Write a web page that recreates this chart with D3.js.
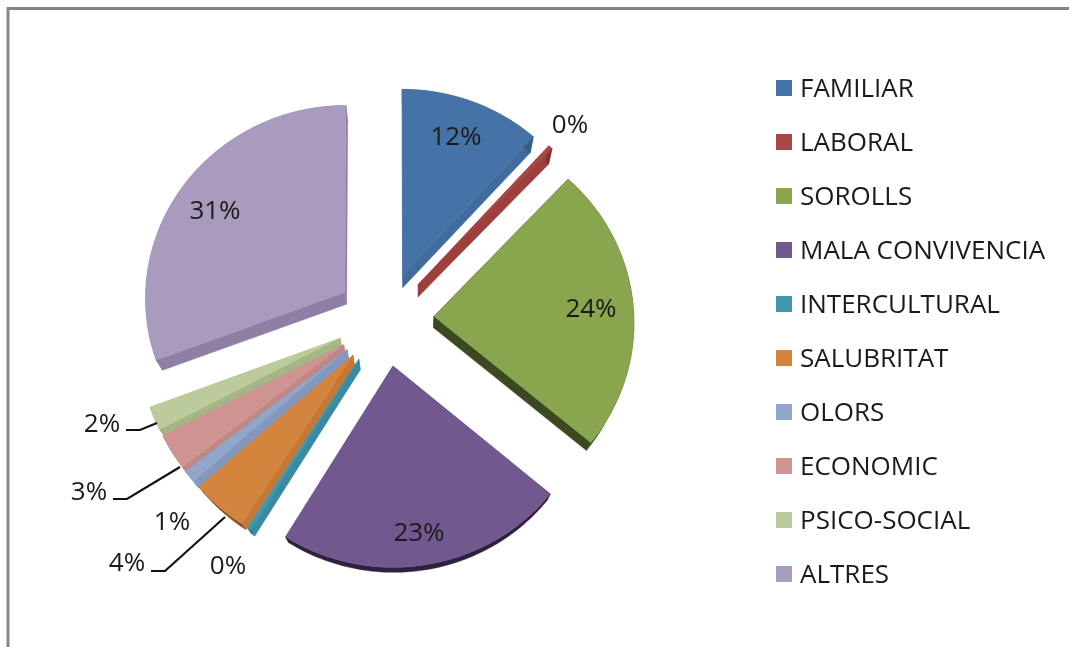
<!DOCTYPE html>
<html>
<head>
<meta charset="utf-8">
<script src="https://cdn.jsdelivr.net/npm/d3@7"></script>
<style>
  html, body { margin: 0; padding: 0; background: #fff; }
  svg { display: block; }
</style>
</head>
<body>
<svg id="chart"></svg>
<script>
// Chart data
const categories = ["FAMILIAR", "LABORAL", "SOROLLS", "MALA CONVIVENCIA", "INTERCULTURAL", "SALUBRITAT", "OLORS", "ECONOMIC", "PSICO-SOCIAL", "ALTRES"];
const values = [11.82, 0.36, 24.14, 22.8, 0.3, 4.45, 0.98, 2.93, 1.96, 30.9];
const percentLabels = ["12%", "0%", "24%", "23%", "0%", "4%", "1%", "3%", "2%", "31%"];

// Colours: top face, legend, rim wall, cut wall
const topColors = ["#4572a7", "#aa4643", "#89a54e", "#71588f", "#4198af", "#d5843e", "#92a6c9", "#cf9492", "#bccb9b", "#a99bbd"];
const rimColors = ["#375c87", "#7d3331", "#414f22", "#2e2140", "#2f7386", "#85501d", "#7389ae", "#ad7674", "#9aaa7c", "#8c7da1"];
const cutColors = ["#406b9d", "#9c3f3d", "#3c4820", "#5c4775", "#3a8aa0", "#c57735", "#8398bc", "#bf8785", "#a5b586", "#8f7fa4"];

// Percent label anchors and leader lines (layout only)
const labelPos = [[456, 136], [570, 124], [591, 308], [419, 532], [228, 565], [127, 562], [172, 521], [89, 491], [102, 423], [215, 210]];
const leaders = [
  [[157, 423], [140, 430], [126, 430]],
  [[180, 467], [127, 499], [113, 499]],
  [[225, 517], [165, 571], [151, 571]]
];

const width = 1069;
const height = 647;

// Pie geometry, the pie is tilted and seen in slight perspective
const cx = 385;
const cy = 319;
const radius = 200;
const explode = 49;
const tilt = 0.966;
const camera = 7319;
const vanish = [415, 764];
const depth = 0.0255;

const svg = d3.select("#chart")
  .attr("width", width)
  .attr("height", height)
  .attr("viewBox", [0, 0, width, height])
  .style("filter", "blur(0.6px)");

svg.append("rect").attr("width", width).attr("height", height).attr("fill", "#fff");

// Frame, only top and left edges show
svg.append("path")
  .attr("fill", "none")
  .attr("stroke", "#868686")
  .attr("stroke-width", 3)
  .attr("d", d3.line()([[8, height], [8, 8.5], [width, 8.5]]));

function project(X, Z) {
  const s = 1 / (1 + Z / camera);
  return [cx + X * s, cy - tilt * Z * s];
}

function extrude(p) {
  return [p[0] + depth * (vanish[0] - p[0]), p[1] + depth * (vanish[1] - p[1])];
}

const pie = d3.pie().sort(null).value(d => d)(values);

const slices = pie.map((d, i) => {
  const mid = (d.startAngle + d.endAngle) / 2;
  const ox = explode * Math.sin(mid);
  const oz = explode * Math.cos(mid);
  const apex = project(ox, oz);
  const steps = Math.max(2, Math.ceil((d.endAngle - d.startAngle) / 0.03));
  const arc = d3.range(steps + 1).map(k => {
    const a = d.startAngle + (d.endAngle - d.startAngle) * k / steps;
    return project(ox + radius * Math.sin(a), oz + radius * Math.cos(a));
  });
  return { i, mid, apex, arc };
});

const line = d3.line();
const closed = pts => line(pts) + "Z";

// Far slices first so the near ones paint over them
const ordered = slices.slice().sort((a, b) => Math.cos(b.mid) - Math.cos(a.mid));

const pieGroup = svg.append("g");
ordered.forEach(s => {
  const first = s.arc[0];
  const last = s.arc[s.arc.length - 1];
  const g = pieGroup.append("g");
  // cut walls
  g.append("path").attr("fill", cutColors[s.i]).attr("stroke", cutColors[s.i]).attr("stroke-width", 0.4)
    .attr("d", closed([s.apex, first, extrude(first), extrude(s.apex)]));
  g.append("path").attr("fill", cutColors[s.i]).attr("stroke", cutColors[s.i]).attr("stroke-width", 0.4)
    .attr("d", closed([s.apex, last, extrude(last), extrude(s.apex)]));
  // outer wall
  g.append("path").attr("fill", rimColors[s.i]).attr("stroke", rimColors[s.i]).attr("stroke-width", 0.4)
    .attr("d", closed(s.arc.concat(s.arc.map(extrude).reverse())));
  // top face
  g.append("path").attr("fill", topColors[s.i]).attr("stroke", topColors[s.i]).attr("stroke-width", 0.4)
    .attr("d", closed([s.apex].concat(s.arc)));
});

// Leader lines
svg.append("g").selectAll("path")
  .data(leaders)
  .join("path")
  .attr("fill", "none")
  .attr("stroke", "#111")
  .attr("stroke-width", 2.2)
  .attr("d", d => line(d));

const font = "'Open Sans', 'Noto Sans', sans-serif";

// Percent labels
svg.append("g").selectAll("text")
  .data(percentLabels)
  .join("text")
  .attr("x", (d, i) => labelPos[i][0])
  .attr("y", (d, i) => labelPos[i][1])
  .attr("dy", "0.36em")
  .attr("text-anchor", "middle")
  .attr("font-family", font)
  .attr("font-size", 26)
  .attr("fill", "#1a1a1a")
  .text(d => d);

// Legend
const legendY = d3.scalePoint().domain(categories).range([88, 574]);
const legend = svg.append("g").selectAll("g")
  .data(categories)
  .join("g")
  .attr("transform", d => `translate(776,${legendY(d)})`);

legend.append("rect")
  .attr("x", 0)
  .attr("y", -8)
  .attr("width", 16)
  .attr("height", 16)
  .attr("fill", (d, i) => topColors[i]);

legend.append("text")
  .attr("x", 24)
  .attr("dy", "0.36em")
  .attr("font-family", font)
  .attr("font-size", 26)
  .attr("fill", "#1a1a1a")
  .text(d => d);
</script>
</body>
</html>
